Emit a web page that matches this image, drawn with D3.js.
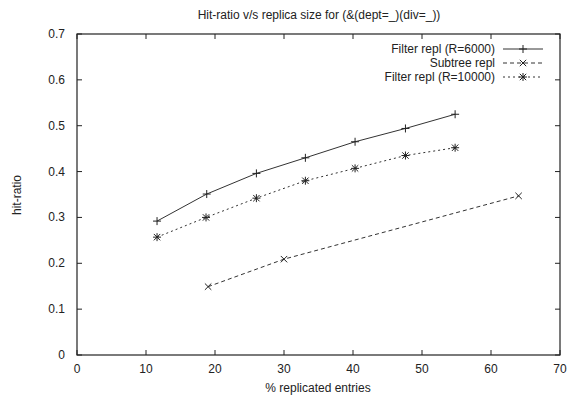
<!DOCTYPE html>
<html>
<head>
<meta charset="utf-8">
<script src="https://cdn.jsdelivr.net/npm/d3@7"></script>
<style>
  body { margin: 0; background: #fff; }
  text { font-family: "Liberation Sans", Arial, sans-serif; fill: #222; }
</style>
</head>
<body>
<div id="chart"></div>
<script>
// data
var filter6000X = [11.6, 18.8, 26.0, 33.1, 40.3, 47.6, 54.8];
var filter6000Y = [0.292, 0.351, 0.396, 0.430, 0.465, 0.494, 0.525];
var subtreeX = [19.0, 30.0, 64.0];
var subtreeY = [0.149, 0.209, 0.347];
var filter10000X = [11.6, 18.7, 26.0, 33.1, 40.3, 47.6, 54.8];
var filter10000Y = [0.257, 0.300, 0.342, 0.380, 0.407, 0.435, 0.452];
var xTicks = [0, 10, 20, 30, 40, 50, 60, 70];
var yTicks = [0, 0.1, 0.2, 0.3, 0.4, 0.5, 0.6, 0.7];

var width = 573, height = 398;
var plotLeft = 77, plotRight = 560, plotTop = 34, plotBottom = 355;
var fs = 12;

var svg = d3.select("#chart").append("svg")
    .attr("width", width)
    .attr("height", height);

var x = d3.scaleLinear().domain([0, 70]).range([plotLeft, plotRight]);
var y = d3.scaleLinear().domain([0, 0.7]).range([plotBottom, plotTop]);

// frame
svg.append("rect")
    .attr("x", plotLeft).attr("y", plotTop)
    .attr("width", plotRight - plotLeft).attr("height", plotBottom - plotTop)
    .attr("fill", "none").attr("stroke", "#222").attr("stroke-width", 1.2);

// ticks (inside, mirrored)
var tl = 5;
xTicks.forEach(function(t){
    svg.append("line").attr("x1", x(t)).attr("x2", x(t))
        .attr("y1", plotBottom).attr("y2", plotBottom - tl).attr("stroke", "#222");
    svg.append("line").attr("x1", x(t)).attr("x2", x(t))
        .attr("y1", plotTop).attr("y2", plotTop + tl).attr("stroke", "#222");
    svg.append("text").attr("x", x(t)).attr("y", 373)
        .attr("text-anchor", "middle").attr("font-size", fs)
        .text(d3.format("d")(t));
});
yTicks.forEach(function(t){
    svg.append("line").attr("x1", plotLeft).attr("x2", plotLeft + tl)
        .attr("y1", y(t)).attr("y2", y(t)).attr("stroke", "#222");
    svg.append("line").attr("x1", plotRight).attr("x2", plotRight - tl)
        .attr("y1", y(t)).attr("y2", y(t)).attr("stroke", "#222");
    svg.append("text").attr("x", 65).attr("y", y(t) + 4)
        .attr("text-anchor", "end").attr("font-size", fs)
        .text(t === 0 ? "0" : d3.format(".1f")(t));
});

// titles
svg.append("text").attr("x", 319).attr("y", 19)
    .attr("text-anchor", "middle").attr("font-size", fs)
    .text("Hit-ratio v/s replica size for (&(dept=_)(div=_))");
svg.append("text").attr("x", 318).attr("y", 392)
    .attr("text-anchor", "middle").attr("font-size", fs)
    .text("% replicated entries");
svg.append("text")
    .attr("transform", "translate(21," + 195 + ") rotate(-90)")
    .attr("text-anchor", "middle").attr("font-size", fs)
    .text("hit-ratio");

function marker(g, kind, cx, cy) {
    var s = 4;
    if (kind === "plus" || kind === "star") {
        g.append("line").attr("x1", cx - s).attr("x2", cx + s).attr("y1", cy).attr("y2", cy);
        g.append("line").attr("x1", cx).attr("x2", cx).attr("y1", cy - s).attr("y2", cy + s);
    }
    if (kind === "cross" || kind === "star") {
        var c = 3.2;
        g.append("line").attr("x1", cx - c).attr("x2", cx + c).attr("y1", cy - c).attr("y2", cy + c);
        g.append("line").attr("x1", cx - c).attr("x2", cx + c).attr("y1", cy + c).attr("y2", cy - c);
    }
}

var series = [
    {name: "Filter repl (R=6000)", xs: filter6000X, ys: filter6000Y, dash: null, mk: "plus"},
    {name: "Subtree repl", xs: subtreeX, ys: subtreeY, dash: "4,3", mk: "cross"},
    {name: "Filter repl (R=10000)", xs: filter10000X, ys: filter10000Y, dash: "2,3", mk: "star"}
];

var line = d3.line().x(function(d){ return x(d[0]); }).y(function(d){ return y(d[1]); });

series.forEach(function(s, i){
    var pts = s.xs.map(function(v, j){ return [v, s.ys[j]]; });
    svg.append("path").datum(pts)
        .attr("d", line)
        .attr("fill", "none").attr("stroke", "#333").attr("stroke-width", 1)
        .attr("stroke-dasharray", s.dash);
    var g = svg.append("g").attr("stroke", "#222").attr("stroke-width", 1);
    pts.forEach(function(p){ marker(g, s.mk, x(p[0]), y(p[1])); });

    // legend
    var ly = 49 + i * 14;
    svg.append("text").attr("x", 495).attr("y", ly + 4)
        .attr("text-anchor", "end").attr("font-size", fs).text(s.name);
    svg.append("line").attr("x1", 503).attr("x2", 543).attr("y1", ly).attr("y2", ly)
        .attr("stroke", "#333").attr("stroke-width", 1).attr("stroke-dasharray", s.dash);
    var lg = svg.append("g").attr("stroke", "#222").attr("stroke-width", 1);
    marker(lg, s.mk, 523, ly);
});
</script>
</body>
</html>
